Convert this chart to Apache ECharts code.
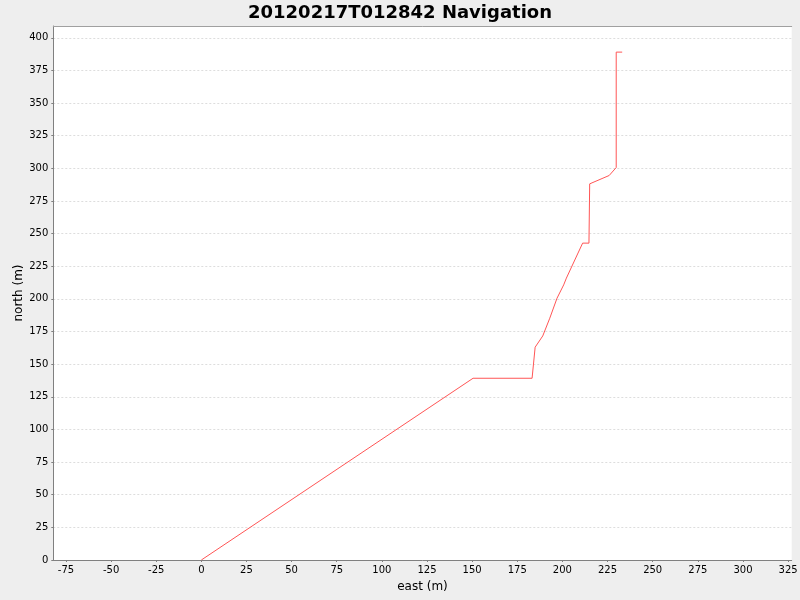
<!DOCTYPE html>
<html>
<head>
<meta charset="utf-8">
<script src="https://cdn.jsdelivr.net/npm/echarts@6/dist/echarts.min.js"></script>
<style>
html,body{margin:0;padding:0;background:#EEEEEE;}
#chart{width:800px;height:600px;}
</style>
</head>
<body>
<div id="chart"></div>
<script>
// Data
var titleText = '20120217T012842 Navigation';
var xName = 'east (m)';
var yName = 'north (m)';
var eastValues  = [0, 150.5, 183.2, 184.9, 189.1, 193.0, 197.0, 200.7, 202.2, 211.2, 214.7, 215.1, 225.9, 229.8, 229.8, 233.1];
var northValues = [0, 139.2, 139.2, 163.0, 171.6, 185.2, 200.5, 210.7, 215.9, 242.7, 242.7, 288.1, 294.5, 300.6, 389.0, 389.0];
var xRange = [-82, 327];
var yRange = [0, 409];
var tickStep = 25;

var points = eastValues.map(function (e, i) { return [e, northValues[i]]; });

var font = 'DejaVu Sans, Verdana, sans-serif';
var chart = echarts.init(document.getElementById('chart'), null, {renderer: 'canvas'});
chart.setOption({
  backgroundColor: '#EEEEEE',
  animation: false,
  title: {
    text: titleText,
    left: 'center',
    top: -1,
    textStyle: {fontFamily: font, fontSize: 18, fontWeight: 'bold', color: '#000'}
  },
  grid: {
    left: 53.3, right: 8.3, top: 26, bottom: 40,
    outerBoundsMode: 'none', containLabel: false,
    show: true, backgroundColor: '#FFFFFF', borderWidth: 0
  },
  xAxis: [{
    type: 'value',
    min: xRange[0], max: xRange[1],
    minInterval: tickStep, maxInterval: tickStep,
    name: xName, nameLocation: 'middle', nameGap: 21, nameMoveOverlap: false,
    nameTextStyle: {fontFamily: font, fontSize: 12, color: '#000'},
    axisLine: {show: true, onZero: false, lineStyle: {color: '#808080', width: 1}},
    axisTick: {show: true, length: 2, lineStyle: {color: '#808080'}},
    axisLabel: {fontFamily: font, fontSize: 10, color: '#000', margin: 5, showMinLabel: false, showMaxLabel: false},
    splitLine: {show: false}
  }, {
    type: 'value', position: 'top',
    min: xRange[0], max: xRange[1],
    axisLine: {show: true, onZero: false, lineStyle: {color: '#A0A0A0', width: 1}},
    axisTick: {show: false}, axisLabel: {show: false}, splitLine: {show: false}
  }],
  yAxis: {
    type: 'value',
    min: yRange[0], max: yRange[1], interval: tickStep,
    name: yName, nameLocation: 'middle', nameGap: 28, nameMoveOverlap: false,
    nameTextStyle: {fontFamily: font, fontSize: 12, color: '#000'},
    axisLine: {show: true, onZero: false, lineStyle: {color: '#808080', width: 1}},
    axisTick: {show: true, length: 2, lineStyle: {color: '#808080'}},
    axisLabel: {fontFamily: font, fontSize: 10, color: '#000', margin: 5, showMaxLabel: false},
    splitLine: {show: true, lineStyle: {color: '#DDDDDD', type: [2, 2], width: 1}}
  },
  series: [{
    type: 'line',
    xAxisIndex: 0,
    data: points,
    showSymbol: false,
    symbol: 'none',
    lineStyle: {color: '#FF5555', width: 1},
    silent: true
  }]
});
</script>
</body>
</html>
